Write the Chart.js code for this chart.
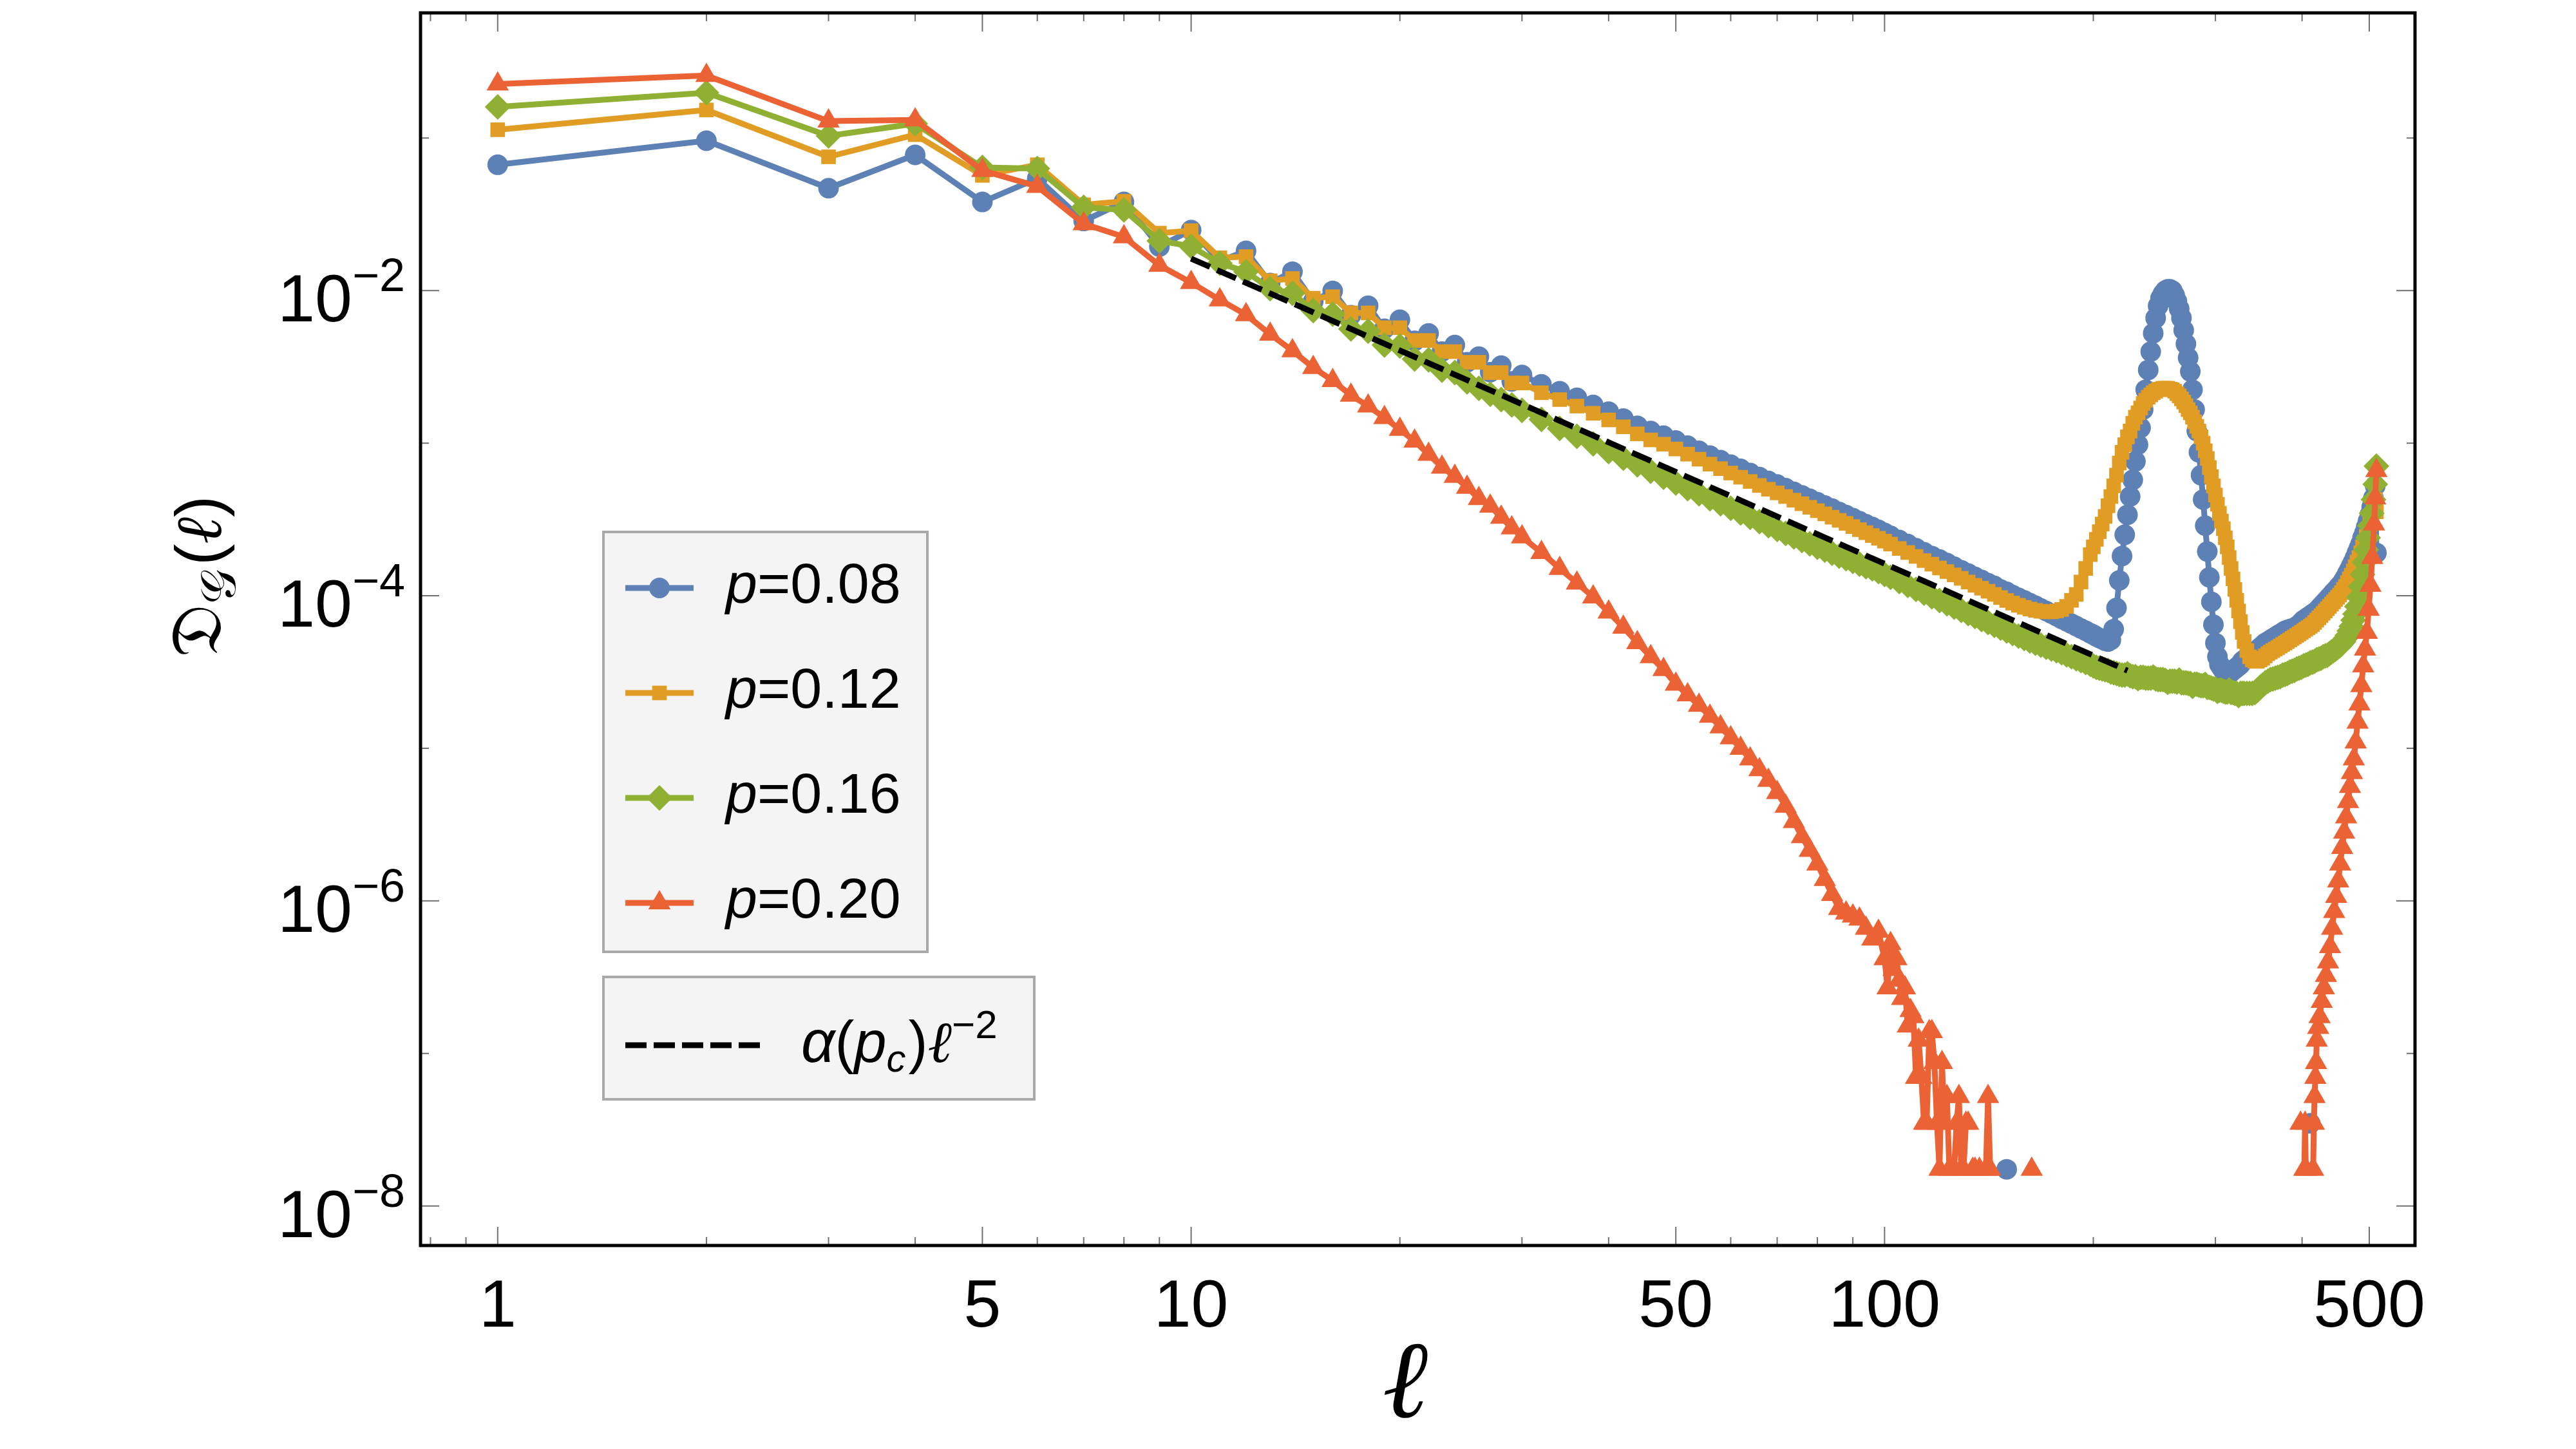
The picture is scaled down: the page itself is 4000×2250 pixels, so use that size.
<!DOCTYPE html>
<html>
<head>
<meta charset="utf-8">
<script src="https://cdn.jsdelivr.net/npm/chart.js@4.4.1/dist/chart.umd.min.js"></script>
<style>
  html, body { margin: 0; padding: 0; background: #fff; }
  canvas { display: block; }
</style>
</head>
<body>
<canvas id="chartArea" width="4000" height="2250"></canvas>
<script>
// cluster size l, shared by the three smooth curves
var ell = [
  1,2,3,4,5,6,7,8,9,10,
  11,12,13,14,15,16,17,18,19,20,
  21,22,23,24,25,26,27,28,29,30,
  32,34,36,38,40,42,44,46,48,50,
  52,54,56,58,60,62,64,66,68,70,
  72,74,76,78,80,82,84,86,88,90,
  92,94,96,98,100,
  102,105,108,111,114,117,120,123,126,129,
  132,135,138,141,144,147,150,153,156,159,
  162,165,168,171,174,177,180,183,186,189,
  192,195,198,
  200,202,204,206,208,210,212,214,216,218,
  220,222,224,226,228,230,232,234,236,238,
  240,242,244,246,248,250,252,254,256,258,
  260,262,264,266,268,270,272,274,276,278,
  280,282,284,286,288,290,292,294,296,298,
  300,302,304,306,308,310,312,314,316,318,
  320,322,324,326,328,330,
  333,336,339,342,345,348,351,354,357,360,
  363,366,369,372,375,378,381,384,387,390,
  393,396,399,402,405,408,411,414,417,420,
  423,426,429,432,435,438,441,444,447,450,
  453,456,459,462,465,468,471,474,477,480,
  483,486,489,492,495,498,501,504,507,510,
  512
];

// p = 0.08
var blue = [
  0.0668,0.0960,0.0469,0.0775,0.0381,0.0543,0.0286,0.0381,0.0194,0.0249,
  0.0156,0.0182,0.0112,0.0133,0.0085,0.00995,0.0069,0.00796,0.00562,0.00644,
  0.00468,0.00524,0.00398,0.0044,0.00339,0.00369,0.00292,0.00322,0.00254,0.0028,
  2.43e-3,2.19e-3,1.98e-3,1.78e-3,1.61e-3,1.45e-3,1.30e-3,1.20e-3,1.12e-3,1.04e-3,
  9.62e-4,8.91e-4,8.28e-4,7.73e-4,7.23e-4,6.79e-4,6.37e-4,6.00e-4,5.66e-4,5.36e-4,
  5.07e-4,4.80e-4,4.55e-4,4.32e-4,4.10e-4,3.90e-4,3.72e-4,3.54e-4,3.38e-4,3.23e-4,
  3.08e-4,2.94e-4,2.82e-4,2.70e-4,2.58e-4,
  2.47e-4,2.32e-4,2.18e-4,2.05e-4,1.93e-4,1.82e-4,1.73e-4,1.64e-4,1.55e-4,1.47e-4,
  1.40e-4,1.33e-4,1.27e-4,1.21e-4,1.16e-4,1.10e-4,1.06e-4,1.01e-4,9.70e-5,9.33e-5,
  8.95e-5,8.61e-5,8.26e-5,7.94e-5,7.64e-5,7.35e-5,7.06e-5,6.81e-5,6.56e-5,6.32e-5,
  6.10e-5,5.89e-5,5.68e-5,
  5.55e-5,5.41e-5,5.28e-5,5.19e-5,5.07e-5,5.01e-5,5.13e-5,6.03e-5,8.32e-5,1.26e-4,
  1.82e-4,2.51e-4,3.39e-4,4.47e-4,5.75e-4,7.59e-4,9.77e-4,1.26e-3,1.66e-3,2.24e-3,
  3.02e-3,3.98e-3,5.25e-3,6.61e-3,7.94e-3,8.91e-3,9.55e-3,1.00e-2,1.02e-2,1.02e-2,
  1.00e-2,9.33e-3,8.51e-3,7.59e-3,6.61e-3,5.50e-3,4.47e-3,3.63e-3,2.95e-3,2.24e-3,
  1.66e-3,1.20e-3,8.71e-4,6.17e-4,4.27e-4,2.88e-4,1.95e-4,1.32e-4,9.12e-5,6.46e-5,
  4.90e-5,3.98e-5,3.55e-5,3.39e-5,3.24e-5,3.16e-5,3.16e-5,3.16e-5,3.16e-5,3.24e-5,
  3.31e-5,3.39e-5,3.47e-5,3.55e-5,3.72e-5,3.80e-5,
  3.89e-5,3.98e-5,4.17e-5,4.27e-5,4.42e-5,4.57e-5,4.73e-5,4.90e-5,5.01e-5,5.13e-5,
  5.25e-5,5.37e-5,5.50e-5,5.62e-5,5.75e-5,5.89e-5,5.96e-5,6.03e-5,6.10e-5,6.17e-5,
  6.31e-5,6.46e-5,6.68e-5,6.92e-5,7.08e-5,7.24e-5,7.41e-5,7.59e-5,7.76e-5,7.94e-5,
  8.22e-5,8.51e-5,8.81e-5,9.12e-5,9.44e-5,9.77e-5,1.01e-4,1.05e-4,1.08e-4,1.12e-4,
  1.16e-4,1.20e-4,1.26e-4,1.32e-4,1.40e-4,1.48e-4,1.57e-4,1.66e-4,1.78e-4,1.91e-4,
  2.04e-4,2.19e-4,2.40e-4,2.57e-4,2.82e-4,3.09e-4,3.39e-4,3.80e-4,4.37e-4,5.25e-4,
  1.91e-4
];

// p = 0.12
var orange = [
  0.1133,0.1527,0.0753,0.1052,0.0569,0.0668,0.0365,0.0385,0.0238,0.0247,
  0.0164,0.0167,0.0116,0.0120,0.00891,0.00912,0.00714,0.00714,0.00571,0.00571,
  0.00471,0.00471,0.00398,0.00398,0.00339,0.00339,0.00290,0.00290,0.00248,0.00248,
  2.14e-3,1.93e-3,1.75e-3,1.57e-3,1.42e-3,1.28e-3,1.15e-3,1.05e-3,9.84e-4,9.16e-4,
  8.47e-4,7.85e-4,7.29e-4,6.81e-4,6.37e-4,5.98e-4,5.61e-4,5.28e-4,4.99e-4,4.72e-4,
  4.47e-4,4.23e-4,4.01e-4,3.80e-4,3.61e-4,3.44e-4,3.27e-4,3.12e-4,2.98e-4,2.84e-4,
  2.71e-4,2.59e-4,2.48e-4,2.38e-4,2.28e-4,
  2.18e-4,2.04e-4,1.92e-4,1.81e-4,1.70e-4,1.61e-4,1.52e-4,1.44e-4,1.37e-4,1.30e-4,
  1.23e-4,1.17e-4,1.12e-4,1.07e-4,1.02e-4,9.73e-5,9.31e-5,8.95e-5,8.65e-5,8.39e-5,
  8.18e-5,8.02e-5,7.91e-5,7.85e-5,7.85e-5,7.94e-5,8.13e-5,8.51e-5,9.33e-5,1.02e-4,
  1.23e-4,1.51e-4,1.86e-4,
  2.09e-4,2.34e-4,2.63e-4,2.95e-4,3.31e-4,3.89e-4,4.47e-4,5.25e-4,6.17e-4,7.41e-4,
  8.71e-4,9.77e-4,1.10e-3,1.20e-3,1.35e-3,1.48e-3,1.58e-3,1.70e-3,1.82e-3,1.91e-3,
  2.00e-3,2.07e-3,2.14e-3,2.19e-3,2.24e-3,2.26e-3,2.29e-3,2.29e-3,2.29e-3,2.26e-3,
  2.24e-3,2.19e-3,2.11e-3,2.04e-3,1.95e-3,1.86e-3,1.76e-3,1.66e-3,1.58e-3,1.48e-3,
  1.38e-3,1.29e-3,1.20e-3,1.10e-3,1.00e-3,8.91e-4,7.94e-4,6.92e-4,6.03e-4,5.25e-4,
  4.57e-4,3.98e-4,3.47e-4,3.09e-4,2.75e-4,2.40e-4,2.09e-4,1.78e-4,1.51e-4,1.29e-4,
  1.10e-4,9.33e-5,7.94e-5,6.76e-5,5.75e-5,5.01e-5,
  4.37e-5,3.98e-5,3.80e-5,3.72e-5,3.72e-5,3.80e-5,3.89e-5,4.03e-5,4.17e-5,4.27e-5,
  4.37e-5,4.47e-5,4.57e-5,4.68e-5,4.79e-5,4.90e-5,5.01e-5,5.13e-5,5.25e-5,5.37e-5,
  5.50e-5,5.62e-5,5.75e-5,5.89e-5,6.03e-5,6.17e-5,6.31e-5,6.46e-5,6.68e-5,6.92e-5,
  7.16e-5,7.41e-5,7.67e-5,7.94e-5,8.22e-5,8.51e-5,8.81e-5,9.12e-5,9.44e-5,9.77e-5,
  1.01e-4,1.05e-4,1.10e-4,1.15e-4,1.22e-4,1.29e-4,1.36e-4,1.45e-4,1.55e-4,1.66e-4,
  1.78e-4,1.91e-4,2.09e-4,2.24e-4,2.45e-4,2.69e-4,2.95e-4,3.31e-4,3.72e-4,4.27e-4,
  3.55e-4
];

// p = 0.16
var green = [
  0.160,0.198,0.1033,0.1243,0.0641,0.0630,0.0351,0.0338,0.0212,0.0195,
  0.0151,0.0133,0.0103,0.00959,0.0074,0.00701,0.00561,0.00542,0.0044,0.00433,
  0.00356,0.00352,0.00301,0.0029,0.00252,0.00229,0.00209,0.00193,0.00178,0.00164,
  1.43e-3,1.25e-3,1.11e-3,9.89e-4,8.81e-4,7.96e-4,7.21e-4,6.55e-4,5.98e-4,5.48e-4,
  5.04e-4,4.66e-4,4.32e-4,4.01e-4,3.74e-4,3.49e-4,3.27e-4,3.06e-4,2.88e-4,2.72e-4,
  2.56e-4,2.43e-4,2.30e-4,2.19e-4,2.08e-4,1.99e-4,1.90e-4,1.82e-4,1.75e-4,1.68e-4,
  1.61e-4,1.55e-4,1.50e-4,1.44e-4,1.38e-4,
  1.32e-4,1.24e-4,1.17e-4,1.10e-4,1.04e-4,9.84e-5,9.31e-5,8.87e-5,8.41e-5,8.02e-5,
  7.64e-5,7.31e-5,6.98e-5,6.68e-5,6.40e-5,6.14e-5,5.87e-5,5.65e-5,5.43e-5,5.24e-5,
  5.05e-5,4.89e-5,4.74e-5,4.60e-5,4.48e-5,4.36e-5,4.23e-5,4.10e-5,3.98e-5,3.86e-5,
  3.76e-5,3.65e-5,3.55e-5,
  3.47e-5,3.39e-5,3.35e-5,3.31e-5,3.27e-5,3.24e-5,3.16e-5,3.13e-5,3.09e-5,3.05e-5,
  3.02e-5,3.02e-5,3.08e-5,2.99e-5,2.95e-5,2.95e-5,2.86e-5,2.92e-5,2.92e-5,2.88e-5,
  2.88e-5,2.88e-5,2.93e-5,2.85e-5,2.82e-5,2.82e-5,2.82e-5,2.79e-5,2.71e-5,2.75e-5,
  2.75e-5,2.75e-5,2.72e-5,2.80e-5,2.69e-5,2.69e-5,2.69e-5,2.66e-5,2.66e-5,2.55e-5,
  2.63e-5,2.63e-5,2.60e-5,2.57e-5,2.57e-5,2.62e-5,2.51e-5,2.51e-5,2.48e-5,2.45e-5,
  2.45e-5,2.36e-5,2.40e-5,2.40e-5,2.37e-5,2.34e-5,2.34e-5,2.41e-5,2.32e-5,2.32e-5,
  2.29e-5,2.29e-5,2.22e-5,2.29e-5,2.29e-5,2.29e-5,
  2.29e-5,2.29e-5,2.29e-5,2.32e-5,2.40e-5,2.51e-5,2.60e-5,2.69e-5,2.75e-5,2.82e-5,
  2.85e-5,2.88e-5,2.92e-5,2.95e-5,3.02e-5,3.05e-5,3.09e-5,3.16e-5,3.20e-5,3.24e-5,
  3.31e-5,3.35e-5,3.39e-5,3.47e-5,3.51e-5,3.55e-5,3.63e-5,3.67e-5,3.72e-5,3.80e-5,
  3.85e-5,3.89e-5,3.98e-5,4.03e-5,4.07e-5,4.17e-5,4.27e-5,4.37e-5,4.47e-5,4.57e-5,
  4.68e-5,4.84e-5,5.01e-5,5.25e-5,5.50e-5,5.89e-5,6.31e-5,6.92e-5,7.59e-5,8.51e-5,
  9.77e-5,1.15e-4,1.38e-4,1.66e-4,2.00e-4,2.40e-4,2.88e-4,3.47e-4,4.27e-4,5.37e-4,
  7.08e-4
];

// p = 0.20 has its own l values; null = no cluster of that size (gap in the line)
var redEll = [
  1,2,3,4,5,6,7,8,9,10,
  11,12,13,14,15,16,17,18,19,20,
  21,22,23,24,25,26,27,28,29,30,
  32,34,36,38,40,42,44,46,48,50,
  52,54,56,58,60,62,64,66,68,70,
  72,74,76,78,80,82,84,86,88,90,
  92,94,96,98,100,
  101,102,103,104,105,106,107,108,109,110,
  111,112,113,114,115,116,117,118,119,120,
  121,122,123,124,125,126,127,128,129,130,
  131,132,133,134,135,136,137,138,139,140,
  141,142,143,163,164,
  398,399,403,404,405,406,415,416,417,418,
  419,420,422,424,427,430,433,436,439,442,
  445,448,451,454,457,460,463,466,469,472,
  475,478,481,484,487,490,493,496,499,502,
  505,508,510,512
];
var red = [
  0.2257,0.257,0.129,0.1315,0.0613,0.0482,0.0274,0.0225,0.01464,0.01129,
  0.00869,0.00695,0.00518,0.00403,0.00313,0.00257,0.00206,0.00175,0.00147,0.00123,
  1.03e-3,8.45e-4,6.95e-4,6.05e-4,5.13e-4,4.33e-4,3.86e-4,3.27e-4,2.78e-4,2.43e-4,
  1.92e-4,1.51e-4,1.21e-4,9.82e-5,7.80e-5,6.21e-5,4.92e-5,3.98e-5,3.28e-5,2.63e-5,
  2.24e-5,1.91e-5,1.62e-5,1.38e-5,1.17e-5,1.00e-5,8.51e-6,7.24e-6,6.17e-6,5.13e-6,
  4.17e-6,3.31e-6,2.63e-6,2.14e-6,1.74e-6,1.38e-6,1.10e-6,8.91e-7,8.32e-7,7.94e-7,
  7.59e-7,6.61e-7,5.62e-7,6.31e-7,4.17e-7,
  2.69e-7,5.25e-7,3.55e-7,4.17e-7,3.02e-7,2.29e-7,2.69e-7,1.51e-7,1.91e-7,1.74e-7,
  6.96e-8,1.22e-7,6.96e-8,3.48e-8,3.48e-8,1.39e-7,1.39e-7,8.70e-8,3.48e-8,1.74e-8,
  8.70e-8,3.48e-8,5.22e-8,1.74e-8,null,1.74e-8,3.48e-8,5.22e-8,1.74e-8,1.74e-8,
  3.48e-8,3.48e-8,null,1.74e-8,1.74e-8,null,1.74e-8,null,null,1.74e-8,
  5.22e-8,1.74e-8,null,1.74e-8,null,
  3.48e-8,null,1.74e-8,3.48e-8,1.74e-8,null,1.74e-8,3.48e-8,5.22e-8,6.96e-8,
  8.70e-8,1.22e-7,1.48e-7,1.74e-7,2.19e-7,2.69e-7,3.24e-7,3.98e-7,5.01e-7,6.61e-7,
  8.51e-7,1.07e-6,1.35e-6,1.74e-6,2.24e-6,2.82e-6,3.55e-6,4.47e-6,5.62e-6,6.92e-6,
  8.51e-6,1.10e-5,1.48e-5,1.95e-5,2.57e-5,3.47e-5,4.47e-5,5.75e-5,8.13e-5,1.17e-4,
  1.78e-4,2.95e-4,4.37e-4,6.61e-4
];

// two lone p = 0.08 markers at the bottom
var strayEll = [150, 411];
var stray = [1.74e-8, 3.48e-8];

// fitted power law alpha(p_c) l^-2
var fitEll = [10, 224];
var fit = [1.62e-2, 3.23e-5];

var seriesLabels = ['0.08', '0.12', '0.16', '0.20'];
var xMajor = [1, 5, 10, 50, 100, 500];
var xMajorLabels = ['1', '5', '10', '50', '100', '500'];
var xMinor = [0.8, 0.9, 2, 3, 4, 6, 7, 8, 9, 20, 30, 40, 60, 70, 80, 90, 200, 300, 400];
var yMajor = [1e-2, 1e-4, 1e-6, 1e-8];
var yMajorExp = ['2', '4', '6', '8'];
var yMinor = [1e-1, 1e-3, 1e-5, 1e-7];

var COLORS = ['#5E81B5', '#E19C24', '#8FB032', '#EB6235'];
var STYLES = [['circle', 16], ['rect', 16], ['rectRot', 20], ['triangle', 20]];
var SANS = '"Liberation Sans", Arial, Helvetica, sans-serif';

function pts(xs, ys) {
  return xs.map(function(x, i) { return {x: x, y: ys[i]}; });
}

function series(data, i, order) {
  return {
    data: data,
    borderColor: COLORS[i],
    backgroundColor: COLORS[i],
    borderWidth: 9,
    borderJoinStyle: 'round',
    pointStyle: STYLES[i][0],
    pointRadius: STYLES[i][1],
    pointBorderWidth: 0,
    pointBackgroundColor: COLORS[i],
    spanGaps: false,
    tension: 0,
    order: order
  };
}

function marker(ctx, style, r, x, y) {
  ctx.beginPath();
  if (style === 'circle') {
    ctx.arc(x, y, r, 0, 2 * Math.PI);
  } else if (style === 'rect') {
    var s = r * Math.SQRT1_2;
    ctx.rect(x - s, y - s, 2 * s, 2 * s);
  } else if (style === 'rectRot') {
    ctx.moveTo(x - r, y); ctx.lineTo(x, y - r); ctx.lineTo(x + r, y); ctx.lineTo(x, y + r);
    ctx.closePath();
  } else {
    ctx.moveTo(x, y - r);
    ctx.lineTo(x + r * Math.sin(2 * Math.PI / 3), y - r * Math.cos(2 * Math.PI / 3));
    ctx.lineTo(x + r * Math.sin(4 * Math.PI / 3), y - r * Math.cos(4 * Math.PI / 3));
    ctx.closePath();
  }
  ctx.fill();
}

function seg(ctx, x1, y1, x2, y2) {
  ctx.beginPath(); ctx.moveTo(x1, y1); ctx.lineTo(x2, y2); ctx.stroke();
}

// writes pieces one after another, each {t, font, dy}
function runText(ctx, pieces, x, y) {
  pieces.forEach(function(p) {
    ctx.font = p.font;
    ctx.fillText(p.t, x, y + (p.dy || 0));
    x += ctx.measureText(p.t).width + (p.gap || 0);
  });
  return x;
}

var frameAndText = {
  id: 'frameAndText',
  afterDraw: function(chart) {
    var ctx = chart.ctx, a = chart.chartArea;
    var xs = chart.scales.x, ys = chart.scales.y;
    ctx.save();

    // inward ticks on all four sides
    ctx.strokeStyle = '#707070';
    ctx.lineWidth = 2;
    xMajor.forEach(function(v) {
      var p = xs.getPixelForValue(v);
      seg(ctx, p, a.bottom, p, a.bottom - 29); seg(ctx, p, a.top, p, a.top + 29);
    });
    xMinor.forEach(function(v) {
      var p = xs.getPixelForValue(v);
      seg(ctx, p, a.bottom, p, a.bottom - 13); seg(ctx, p, a.top, p, a.top + 13);
    });
    yMajor.forEach(function(v) {
      var p = ys.getPixelForValue(v);
      seg(ctx, a.left, p, a.left + 29, p); seg(ctx, a.right, p, a.right - 29, p);
    });
    yMinor.forEach(function(v) {
      var p = ys.getPixelForValue(v);
      seg(ctx, a.left, p, a.left + 13, p); seg(ctx, a.right, p, a.right - 13, p);
    });

    ctx.strokeStyle = '#000';
    ctx.lineWidth = 5;
    ctx.strokeRect(a.left, a.top, a.right - a.left, a.bottom - a.top);

    // tick labels
    ctx.fillStyle = '#000';
    ctx.textBaseline = 'alphabetic';
    ctx.textAlign = 'center';
    ctx.font = '104px ' + SANS;
    xMajor.forEach(function(v, i) {
      ctx.fillText(xMajorLabels[i], xs.getPixelForValue(v), 2060);
    });
    ctx.textAlign = 'left';
    yMajor.forEach(function(v, i) {
      var p = ys.getPixelForValue(v);
      var sup = '\u2212' + yMajorExp[i];
      ctx.font = '72px ' + SANS;
      var ws = ctx.measureText(sup).width;
      ctx.font = '104px ' + SANS;
      var wb = ctx.measureText('10').width;
      var right = a.left - 24;
      ctx.fillText('10', right - ws - wb, p + 48);
      ctx.font = '72px ' + SANS;
      ctx.fillText(sup, right - ws, p + 1);
    });

    // axis titles
    ctx.textAlign = 'center';
    ctx.font = 'italic 170px "DejaVu Serif", serif';
    ctx.fillText('\u2113', 2182, 2200);

    ctx.save();
    ctx.translate(343, 1021);
    ctx.rotate(-Math.PI / 2);
    ctx.textAlign = 'left';
    runText(ctx, [
      {t: '\uD835\uDD07', font: '112px "DejaVu Sans", "DejaVu Serif", serif'},
      {t: '\uD835\uDCA2', font: '76px "DejaVu Sans", "DejaVu Serif", serif', dy: 22, gap: 6},
      {t: '(', font: '100px ' + SANS},
      {t: '\u2113', font: 'italic 100px "DejaVu Serif", serif'},
      {t: ')', font: '100px ' + SANS}
    ], 0, 0);
    ctx.restore();

    // legend box for the four series
    ctx.fillStyle = '#f4f4f4';
    ctx.strokeStyle = '#a9a9a9';
    ctx.lineWidth = 4;
    ctx.fillRect(937, 826, 503, 652);
    ctx.strokeRect(937, 826, 503, 652);
    seriesLabels.forEach(function(lab, i) {
      var y = 913 + i * 163;
      ctx.strokeStyle = COLORS[i];
      ctx.lineWidth = 9;
      seg(ctx, 971, y, 1077, y);
      ctx.fillStyle = COLORS[i];
      marker(ctx, STYLES[i][0], STYLES[i][1], 1024, y);
      ctx.fillStyle = '#000';
      ctx.textAlign = 'left';
      runText(ctx, [
        {t: 'p', font: 'italic 88px ' + SANS},
        {t: '=' + lab, font: '88px ' + SANS}
      ], 1127, y + 23);
    });

    // legend box for the fit
    ctx.fillStyle = '#f4f4f4';
    ctx.strokeStyle = '#a9a9a9';
    ctx.lineWidth = 4;
    ctx.fillRect(937, 1517, 669, 190);
    ctx.strokeRect(937, 1517, 669, 190);
    ctx.strokeStyle = '#000';
    ctx.lineWidth = 9;
    ctx.setLineDash([33, 11]);
    seg(ctx, 971, 1623, 1180, 1623);
    ctx.setLineDash([]);
    ctx.fillStyle = '#000';
    runText(ctx, [
      {t: '\u03B1', font: 'italic 92px ' + SANS},
      {t: '(', font: '90px ' + SANS},
      {t: 'p', font: 'italic 90px ' + SANS},
      {t: 'c', font: 'italic 60px ' + SANS, dy: 15, gap: 4},
      {t: ')', font: '90px ' + SANS},
      {t: '\u2113', font: 'italic 90px "DejaVu Serif", serif'},
      {t: '\u22122', font: '62px ' + SANS, dy: -37}
    ], 1244, 1649);

    ctx.restore();
  }
};

var ctx = document.getElementById('chartArea').getContext('2d');
var config = {
  type: 'line',
  data: {
    datasets: [
      series(pts(ell, blue), 0, 6),
      series(pts(ell, orange), 1, 5),
      series(pts(ell, green), 2, 4),
      Object.assign(series(pts(strayEll, stray), 0, 3), {showLine: false}),
      series(pts(redEll, red), 3, 2),
      {
        data: pts(fitEll, fit),
        borderColor: '#000',
        borderWidth: 9,
        borderDash: [32, 12],
        pointRadius: 0,
        tension: 0,
        order: 1
      }
    ]
  },
  options: {
    responsive: false,
    animation: false,
    devicePixelRatio: 1,
    layout: { padding: { left: 653, right: 250, top: 20, bottom: 316 } },
    plugins: { legend: { display: false }, tooltip: { enabled: false } },
    scales: {
      x: { type: 'logarithmic', min: 0.774, max: 582, bounds: 'data', display: false },
      y: { type: 'logarithmic', min: 5.51e-9, max: 0.661, bounds: 'data', display: false }
    }
  },
  plugins: [frameAndText]
};
window.myChart = new Chart(ctx, config);
</script>
</body>
</html>
